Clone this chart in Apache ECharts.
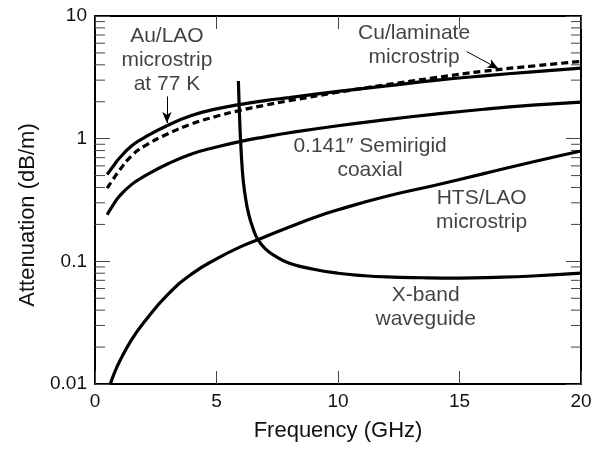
<!DOCTYPE html>
<html>
<head>
<meta charset="utf-8">
<script src="https://cdn.jsdelivr.net/npm/echarts@6/dist/echarts.min.js"></script>
<style>
  html, body { margin: 0; padding: 0; background: #fff; }
  #chart { width: 597px; height: 449px; }
</style>
</head>
<body>
<div id="chart"></div>
<script>
// Attenuation of transmission lines versus frequency

// Au/LAO microstrip at 77 K
const freqAu = [0.5, 0.75, 1, 1.5, 2, 3, 4, 5, 6, 7, 8, 10, 12, 14, 16, 18, 20];
const attAu  = [0.511, 0.596, 0.692, 0.871, 1.012, 1.288, 1.549, 1.750, 1.905, 2.042, 2.163, 2.427, 2.692, 2.985, 3.251, 3.508, 3.758];

// Cu/laminate microstrip (dashed)
const freqCu = [0.5, 0.75, 1, 1.5, 2, 3, 4, 5, 6, 7, 8, 10, 12, 14, 16, 18, 20];
const attCu  = [0.395, 0.468, 0.550, 0.724, 0.861, 1.096, 1.324, 1.521, 1.706, 1.875, 2.042, 2.388, 2.754, 3.141, 3.548, 3.908, 4.266];

// 0.141" semirigid coaxial
const freqCoax = [0.5, 0.75, 1, 1.5, 2, 3, 4, 5, 6, 7, 8, 10, 12, 14, 16, 18, 20];
const attCoax  = [0.240, 0.288, 0.339, 0.422, 0.490, 0.624, 0.753, 0.855, 0.951, 1.035, 1.117, 1.274, 1.429, 1.585, 1.738, 1.875, 1.986];

// HTS/LAO microstrip
const freqHts = [0.63, 0.8, 1, 1.5, 2, 3, 4, 5, 6, 7, 8, 9, 10, 12, 14, 16, 18, 20];
const attHts  = [0.0100, 0.0123, 0.0151, 0.0229, 0.0316, 0.0537, 0.0794, 0.1047, 0.1318, 0.1585, 0.1905, 0.2265, 0.263, 0.339, 0.417, 0.519, 0.646, 0.794];

// X-band waveguide
const freqWg = [5.9, 5.93, 5.96, 6.0, 6.05, 6.11, 6.2, 6.32, 6.5, 6.7, 7.0, 7.4, 8.0, 9, 10, 11, 12, 13.5, 15, 16.5, 18, 20];
const attWg  = [2.951, 1.950, 1.318, 0.891, 0.603, 0.437, 0.324, 0.245, 0.186, 0.151, 0.127, 0.111, 0.0966, 0.0861, 0.0800, 0.0766, 0.0746, 0.0735, 0.0731, 0.0740, 0.0759, 0.0802];

// Axis ticks
const xTicks = [0, 5, 10, 15, 20];
const yDecades = [0.01, 0.1, 1, 10];
const yMinorTicks = [0.02, 0.03, 0.04, 0.05, 0.06, 0.07, 0.08, 0.09,
                     0.2, 0.3, 0.4, 0.5, 0.6, 0.7, 0.8, 0.9,
                     2, 3, 4, 5, 6, 7, 8, 9];

const zip = (xs, ys) => xs.map((x, i) => [x, ys[i]]);

const FONT = '"Liberation Sans", Arial, Helvetica, sans-serif';
const INK = '#111';

const chart = echarts.init(document.getElementById('chart'), null, { renderer: 'canvas' });

const curveStyle = { color: '#000', width: 3.2 };

function axisX(position, showLabels) {
  return {
    type: 'value', position: position, min: xTicks[0], max: xTicks[xTicks.length - 1], interval: 5,
    axisLine: { show: true, onZero: false, lineStyle: { color: '#000', width: 2 } },
    axisTick: { show: true, inside: true, length: 13, lineStyle: { color: '#444', width: 1 } },
    axisLabel: { show: showLabels, color: INK, fontFamily: FONT, fontSize: 19, margin: 8 },
    splitLine: { show: false },
    name: showLabels ? 'Frequency (GHz)' : '',
    nameLocation: 'middle', nameGap: 36,
    nameTextStyle: { color: INK, fontFamily: FONT, fontSize: 22 }
  };
}

function axisY(position, showLabels) {
  return {
    type: 'log', logBase: 10, position: position, min: yDecades[0], max: yDecades[yDecades.length - 1],
    axisLine: { show: true, onZero: false, lineStyle: { color: '#000', width: 2 } },
    axisTick: { show: true, inside: true, length: 15, lineStyle: { color: '#444', width: 1 } },
    minorTick: { show: false },
    axisLabel: {
      show: showLabels, color: INK, fontFamily: FONT, fontSize: 19, margin: 8,
      formatter: v => String(+Number(v).toPrecision(3))
    },
    splitLine: { show: false },
    name: showLabels ? 'Attenuation (dB/m)' : '',
    nameLocation: 'middle', nameGap: 56, nameRotate: 90,
    nameTextStyle: { color: INK, fontFamily: FONT, fontSize: 22, padding: [0, 30, 0, 0] }
  };
}

// text block anchored at a data position
function note(x, y, text) {
  return {
    type: 'scatter', xAxisIndex: 0, yAxisIndex: 0, symbolSize: 0, silent: true,
    data: [[x, y]],
    label: {
      show: true, position: 'inside', formatter: text,
      color: INK, fontFamily: FONT, fontSize: 21, lineHeight: 24, align: 'center'
    }
  };
}

const option = {
  backgroundColor: '#fff',
  animation: false,
  grid: { left: 95, right: 16, top: 16, bottom: 65, containLabel: false },
  xAxis: [axisX('bottom', true), axisX('top', false)],
  yAxis: [axisY('left', true), axisY('right', false)],
  series: [
    {
      name: 'Au/LAO microstrip at 77 K', type: 'line', data: zip(freqAu, attAu),
      showSymbol: false, smooth: 0.5, lineStyle: curveStyle,
      markLine: {
        silent: true, symbol: ['none', 'arrow'], symbolSize: [7, 11],
        lineStyle: { color: '#000', width: 1, type: 'solid' }, label: { show: false },
        data: [[{ coord: [2.96, 2.21] }, { coord: [2.96, 1.34] }]]
      }
    },
    {
      name: 'Cu/laminate microstrip', type: 'line', data: zip(freqCu, attCu),
      showSymbol: false, smooth: 0.5,
      lineStyle: { color: '#000', width: 3.2, type: [7, 4] },
      markLine: {
        silent: true, symbol: ['none', 'arrow'], symbolSize: [7, 11],
        lineStyle: { color: '#000', width: 1, type: 'solid' }, label: { show: false },
        data: [[{ coord: [15.29, 5.14] }, { coord: [16.6, 3.72] }]]
      }
    },
    {
      name: '0.141" Semirigid coaxial', type: 'line', data: zip(freqCoax, attCoax),
      showSymbol: false, smooth: 0.5, lineStyle: curveStyle
    },
    {
      name: 'HTS/LAO microstrip', type: 'line', data: zip(freqHts, attHts),
      showSymbol: false, smooth: 0.5, lineStyle: curveStyle
    },
    {
      name: 'X-band waveguide', type: 'line', data: zip(freqWg, attWg),
      showSymbol: false, smooth: 0.5, lineStyle: curveStyle
    },
    // minor log ticks (2..9 per decade) on both vertical edges
    {
      type: 'custom', silent: true, xAxisIndex: 0, yAxisIndex: 0,
      data: yMinorTicks.map(v => [xTicks[0], v]),
      renderItem: function (params, api) {
        const p = api.coord([api.value(0), api.value(1)]);
        const cs = params.coordSys;
        const len = 10;
        const style = { stroke: '#444', lineWidth: 1 };
        return {
          type: 'group',
          children: [
            { type: 'line', shape: { x1: cs.x, y1: p[1], x2: cs.x + len, y2: p[1] }, style: style },
            { type: 'line', shape: { x1: cs.x + cs.width - len, y1: p[1], x2: cs.x + cs.width, y2: p[1] }, style: style }
          ]
        };
      }
    },
    note(2.96, 4.40, 'Au/LAO\nmicrostrip\nat 77 K'),
    note(13.13, 5.74, 'Cu/laminate\nmicrostrip'),
    note(11.32, 0.695, '0.141\u2033 Semirigid\ncoaxial'),
    note(15.91, 0.26, 'HTS/LAO\nmicrostrip'),
    note(13.61, 0.0425, 'X-band\nwaveguide')
  ]
};

chart.setOption(option);
</script>
</body>
</html>
